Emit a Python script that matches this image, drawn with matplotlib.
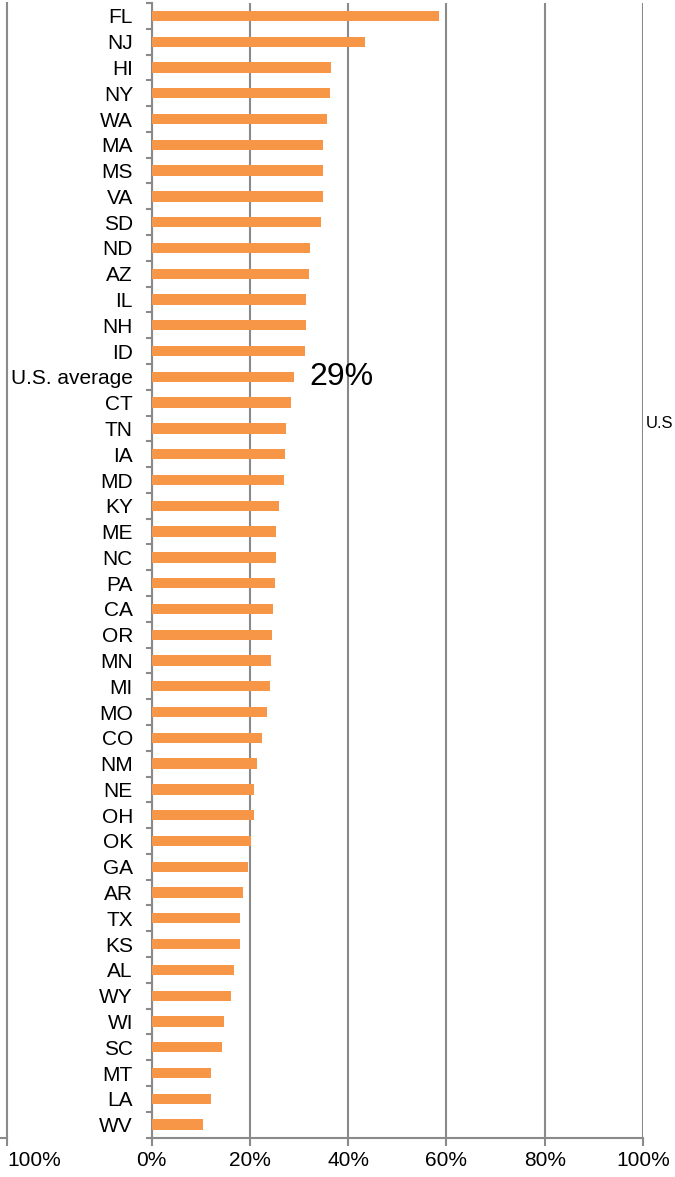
import numpy as np
import matplotlib
matplotlib.use("Agg")
import matplotlib.pyplot as plt
from matplotlib.ticker import FixedLocator, PercentFormatter

plt.rcParams['font.family'] = ['Liberation Sans', 'DejaVu Sans']

# share of something by state, top to bottom as shown in the chart
states = ['FL', 'NJ', 'HI', 'NY', 'WA', 'MA', 'MS', 'VA', 'SD', 'ND', 'AZ', 'IL',
          'NH', 'ID', 'U.S. average', 'CT', 'TN', 'IA', 'MD', 'KY', 'ME', 'NC',
          'PA', 'CA', 'OR', 'MN', 'MI', 'MO', 'CO', 'NM', 'NE', 'OH', 'OK', 'GA',
          'AR', 'TX', 'KS', 'AL', 'WY', 'WI', 'SC', 'MT', 'LA', 'WV']
values = [58.4, 43.5, 36.5, 36.3, 35.7, 34.9, 34.8, 34.8, 34.5, 32.2, 32.1, 31.5,
          31.4, 31.3, 29.0, 28.4, 27.4, 27.1, 26.9, 25.9, 25.3, 25.2,
          25.1, 24.6, 24.4, 24.2, 24.0, 23.5, 22.4, 21.4, 20.8, 20.8, 20.3, 19.7,
          18.6, 18.0, 18.0, 16.7, 16.1, 14.8, 14.4, 12.1, 12.0, 10.5]
avg_label = '29%'
x_ticks = [0, 20, 40, 60, 80, 100]

GRAY = '#8a8a8a'
ORANGE = '#F79646'

fig = plt.figure(figsize=(6.75, 11.77), dpi=100)
bottom, height = 1 - 1137.5 / 1177, (1137.5 - 3) / 1177
ax = fig.add_axes([151.7 / 675, bottom, (643 - 151.7) / 675, height])

n = len(states)
pos = np.arange(n)
ax.barh(pos, values, height=0.4, color=ORANGE, zorder=3)
ax.set_ylim(n - 0.5, -0.5)
ax.set_xlim(0, 100)

# y axis: tick marks between categories, labels at centres
ax.yaxis.set_major_locator(FixedLocator(np.arange(n + 1) - 0.5))
ax.yaxis.set_minor_locator(FixedLocator(pos))
ax.set_yticklabels([], minor=False)
ax.set_yticklabels(states, minor=True, fontsize=15)
ax.tick_params(axis='y', which='major', length=4.5, width=1.5, color=GRAY)
ax.tick_params(axis='y', which='minor', length=0, pad=13.5)

ax.set_xticks(x_ticks)
ax.xaxis.set_major_formatter(PercentFormatter(decimals=0))
ax.tick_params(axis='x', length=6, width=1.5, color=GRAY, labelsize=15, pad=3.5)
ax.grid(axis='x', color=GRAY, linewidth=1.5, zorder=0)

for side in ['top', 'right']:
    ax.spines[side].set_visible(False)
for side in ['left', 'bottom']:
    ax.spines[side].set_color(GRAY)
    ax.spines[side].set_linewidth(1.5)

us_idx = states.index('U.S. average')
ax.annotate(avg_label, xy=(values[us_idx], us_idx), xytext=(11, 0),
            textcoords='offset points', va='center', ha='left', fontsize=23)

# neighbouring chart to the left, only its right edge shows
ax_left = fig.add_axes([-0.7, bottom, 0.7 + 7 / 675, height])
ax_left.set_xlim(0, 100)
ax_left.set_xticks([100])
ax_left.xaxis.set_major_formatter(PercentFormatter(decimals=0))
ax_left.set_yticks([])
ax_left.tick_params(axis='x', length=6, width=1.5, color=GRAY, labelsize=15, pad=3.5)
for lbl in ax_left.get_xticklabels():
    lbl.set_horizontalalignment('left')
# keep the label inside the figure
for lbl in ax_left.xaxis.get_major_ticks():
    lbl.label1.set_horizontalalignment('left')
    lbl.label1.set_x(0)
for side in ['top', 'left']:
    ax_left.spines[side].set_visible(False)
for side in ['right', 'bottom']:
    ax_left.spines[side].set_color(GRAY)
    ax_left.spines[side].set_linewidth(1.5)

# start of a label from the neighbouring chart on the right
fig.text(646 / 675, 1 - 424 / 1177, 'U.S', ha='left', va='center', fontsize=12)

fig.savefig('out.png', dpi=100)
